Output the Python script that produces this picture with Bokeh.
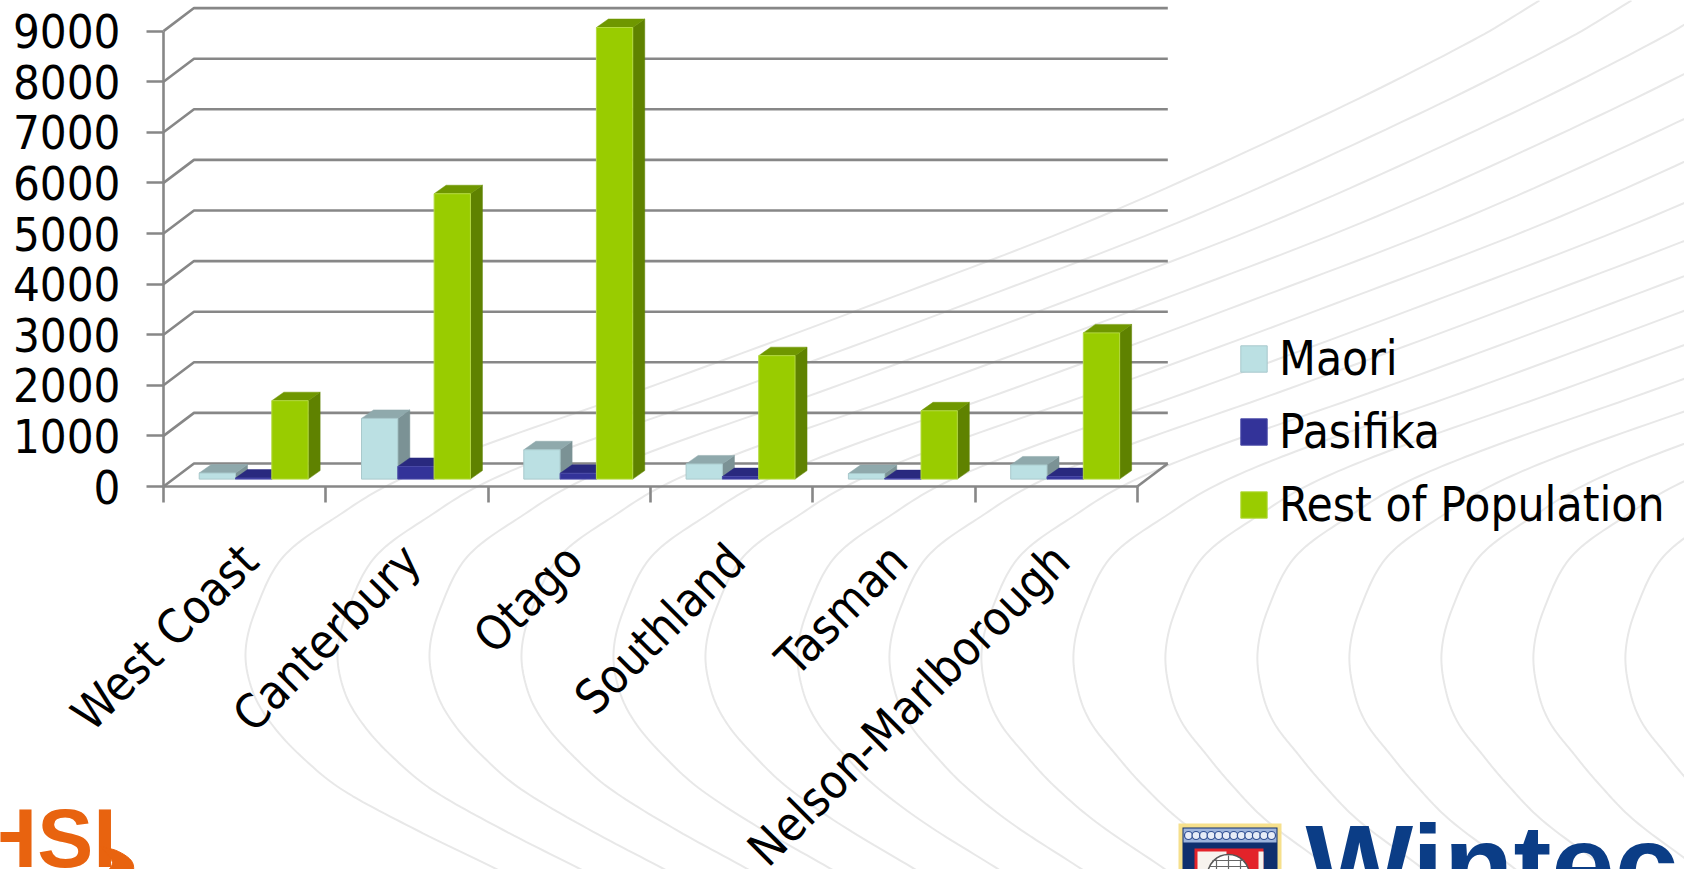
from bokeh.embed import file_html
from bokeh.resources import INLINE
from bokeh.plotting import figure
from bokeh.models import LinearAxis, FixedTicker, Legend, LegendItem, Range1d
from bokeh.core.properties import value
import numpy as np

regions = ["West Coast", "Canterbury", "Otago", "Southland", "Tasman", "Nelson-Marlborough"]
maori = [120, 1200, 580, 300, 110, 280]
pasifika = [20, 250, 115, 50, 10, 50]
rest = [1550, 5640, 8925, 2440, 1350, 2890]
y_ticks = [0, 1000, 2000, 3000, 4000, 5000, 6000, 7000, 8000, 9000]
series_names = ["Maori", "Pasifika", "Rest of Population"]

W, H = 1684, 869
AX_L, AX_B = 163.0, 486.0      # page pixels of the axis origin
UX, UY = 162.3, 50.6 / 1000.0  # px per group, px per value

def X(px):
    return (px - AX_L) / UX

def Y(py):
    return (AX_B - py) / UY

FONT = "DejaVu Sans Condensed"
GRID = "#878787"

p = figure(width=W, height=H, output_backend="svg", toolbar_location=None,
           x_range=Range1d(X(0), X(W)), y_range=Range1d(Y(H), Y(0)),
           x_axis_type=None, y_axis_type=None, min_border=0,
           outline_line_color=None, background_fill_color="white", border_fill_color="white")

# ---- template background swirls (decoration, chord-length Hermite spline) ----
def smooth(pts, n=14):
    pts = np.array(pts, float)
    d = np.sqrt(np.hypot(*np.diff(pts, axis=0).T))  # centripetal parameter
    ts = np.concatenate([[0], np.cumsum(d)])
    m = np.zeros_like(pts)
    m[1:-1] = (pts[2:] - pts[:-2]) / (ts[2:] - ts[:-2])[:, None]
    m[0] = (pts[1] - pts[0]) / d[0]
    m[-1] = (pts[-1] - pts[-2]) / d[-1]
    out = []
    for i in range(len(pts) - 1):
        for u in np.linspace(0, 1, n, endpoint=False):
            h00 = 2 * u**3 - 3 * u**2 + 1
            h10 = u**3 - 2 * u**2 + u
            h01 = -2 * u**3 + 3 * u**2
            h11 = u**3 - u**2
            out.append(h00 * pts[i] + h10 * d[i] * m[i] + h01 * pts[i + 1] + h11 * d[i] * m[i + 1])
    out.append(pts[-1])
    return np.array(out)

upper = [(1294, -653), (1227, -613), (1078, -538), (855, -437), (630, -350), (400, -265), (230, -205), (146, -170), (96, -140),
         (38, -97), (10, -43), (0, 0)]
lower_left = [(8, 40), (28, 73), (58, 105), (98, 137), (172, 177), (258, 219), (330, 255)]
lower_right = [(5, 40), (17, 70), (40, 100), (65, 130), (101, 167), (165, 215), (215, 255)]
shape_l = smooth(upper + lower_left)
shape_r = smooth(upper + lower_right)
xs_bg, ys_bg = [], []
for k in range(17):
    left = 245 + 92 * k
    t = min(k / 10.0, 1.0)
    shape = (1 - t) * shape_l + t * shape_r
    xs_bg.append(list(X(left + shape[:, 0])))
    ys_bg.append(list(Y(653 + shape[:, 1])))
p.multi_line(xs_bg, ys_bg, line_color="#e8e8e8", line_width=2)

# ---- walls ----
DX, DY = 0.188, 455.0
n_groups = len(regions)
wall_x = [[0, DX, n_groups + DX] for _ in y_ticks]
wall_y = [[v, v + DY, v + DY] for v in y_ticks]
p.multi_line(wall_x, wall_y, line_color=GRID, line_width=2.6)
p.line([n_groups, n_groups + DX], [0, DY], line_color=GRID, line_width=2.6)

# ---- 3-D bars ----
BASE = 146.0
BW = 0.2237
START = 0.22
BDX, BDY = 0.074, 168.0
colors = [("#BBE0E3", "#8FA9AC", "#7B9295", "#a9c9cc"),
          ("#333399", "#29297F", "#24246B", "#4a4aa8"),
          ("#99CC00", "#6F9700", "#5F8200", "#b4da40")]
legend_items = []
for j, vals in enumerate([maori, pasifika, rest]):
    front, top, side, edge = colors[j]
    lefts = np.arange(n_groups) + START + j * BW
    rights = lefts + BW
    tops = BASE + np.array(vals, float)
    p.patches([[r, r + BDX, r + BDX, r] for r in rights],
              [[BASE, BASE + BDY, t + BDY, t] for t in tops],
              fill_color=side, line_color=side, line_width=0.5)
    p.patches([[l, l + BDX, r + BDX, r] for l, r in zip(lefts, rights)],
              [[t, t + BDY, t + BDY, t] for t in tops],
              fill_color=top, line_color=top, line_width=0.5)
    r = p.quad(left=lefts, right=rights, bottom=BASE, top=tops,
               fill_color=front, line_color=edge, line_width=1)
    legend_items.append(LegendItem(label=series_names[j], renderers=[r]))

# ---- axes ----
yax = LinearAxis(fixed_location=0, ticker=FixedTicker(ticks=y_ticks), bounds=(0, 9000))
yax.axis_line_color = GRID
yax.axis_line_width = 2.6
yax.major_tick_line_color = GRID
yax.major_tick_line_width = 2.6
yax.major_tick_out = 17
yax.major_tick_in = 0
yax.minor_tick_line_color = None
yax.major_label_standoff = 26
yax.major_label_text_font = FONT
yax.major_label_text_font_size = "47px"
yax.major_label_text_color = "black"
p.add_layout(yax, "left")

xax = LinearAxis(fixed_location=0, ticker=FixedTicker(ticks=list(range(n_groups + 1))), bounds=(0, n_groups))
xax.axis_line_color = GRID
xax.axis_line_width = 2.6
xax.major_tick_line_color = GRID
xax.major_tick_line_width = 2.6
xax.major_tick_out = 16
xax.major_tick_in = 0
xax.minor_tick_line_color = None
xax.major_label_text_font_size = "0px"
xax.major_label_text_color = None
p.add_layout(xax, "below")

centers = [i + 0.53 for i in range(n_groups)]
cax = LinearAxis(fixed_location=0, ticker=FixedTicker(ticks=centers))
cax.axis_line_color = None
cax.major_tick_line_color = None
cax.minor_tick_line_color = None
cax.major_label_overrides = {c: n for c, n in zip(centers, regions)}
cax.major_label_orientation = np.pi / 4
cax.major_label_standoff = 60
cax.major_label_text_font = FONT
cax.major_label_text_font_size = "47.5px"
cax.major_label_text_color = "black"
p.add_layout(cax, "below")

# ---- legend ----
legend = Legend(items=legend_items, location=(1237, H - 532), orientation="vertical",
                glyph_width=33, glyph_height=33, label_standoff=9, spacing=18,
                padding=0, margin=0, border_line_color=None, background_fill_alpha=0,
                label_text_font=FONT, label_text_font_size="47.5px", label_text_color="black")
p.add_layout(legend)

# ---- logos ----
OR = "#E8630F"
p.text([X(-24)], [Y(790)], text=["HSI"], text_color=OR, text_font=value("Liberation Sans"),
       text_font_style="bold", text_font_size="84px", text_baseline="top", text_align="left")
sw = smooth([(100, 846), (118, 851), (132, 862), (130, 876), (105, 876), (112, 862), (100, 846)], 6)
p.patch(X(sw[:, 0]), Y(sw[:, 1]), fill_color=OR, line_color=OR)

p.quad(left=[X(1178)], right=[X(1281)], top=[Y(823)], bottom=[Y(880)], fill_color="#F6E08C", line_color=None)
p.quad(left=[X(1182)], right=[X(1277)], top=[Y(827)], bottom=[Y(880)], fill_color="#0F2F6E", line_color=None)
p.quad(left=[X(1183)], right=[X(1276)], top=[Y(828)], bottom=[Y(842)], fill_color="#9DB4DC", line_color=None)
band_x = np.linspace(1188, 1271, 12)
p.scatter(X(band_x), [Y(835)] * len(band_x), size=8, marker="circle", fill_color="#E6ECF7", line_color="#2F4E92", line_width=1.2)
p.quad(left=[X(1194)], right=[X(1263)], top=[Y(848)], bottom=[Y(880)], fill_color="#E3232A", line_color=None)
p.quad(left=[X(1197)], right=[X(1226)], top=[Y(851)], bottom=[Y(880)], fill_color="#F7F3EE", line_color=None)
p.quad(left=[X(1258)], right=[X(1263)], top=[Y(851)], bottom=[Y(880)], fill_color="#F7F3EE", line_color=None)
p.scatter([X(1228)], [Y(875)], size=42, marker="circle", fill_color="white", line_color="#555555", line_width=1.5)
globe_x = [[X(1228 + d), X(1228 + d)] for d in (-12, 0, 12)] + [[X(1212), X(1244)], [X(1209), X(1247)]]
globe_y = [[Y(855 + abs(d) / 3), Y(869)] for d in (-12, 0, 12)] + [[Y(860), Y(860)], [Y(866), Y(866)]]
p.multi_line(globe_x, globe_y, line_color="#666666", line_width=1.2)

p.text([X(1305)], [Y(800)], text=["Wintec"], text_color="#0B3D86", text_font=value("Liberation Sans"),
       text_font_style="bold", text_font_size="114px", text_baseline="top", text_align="left")

open("out.html", "w").write(file_html(p, INLINE))
